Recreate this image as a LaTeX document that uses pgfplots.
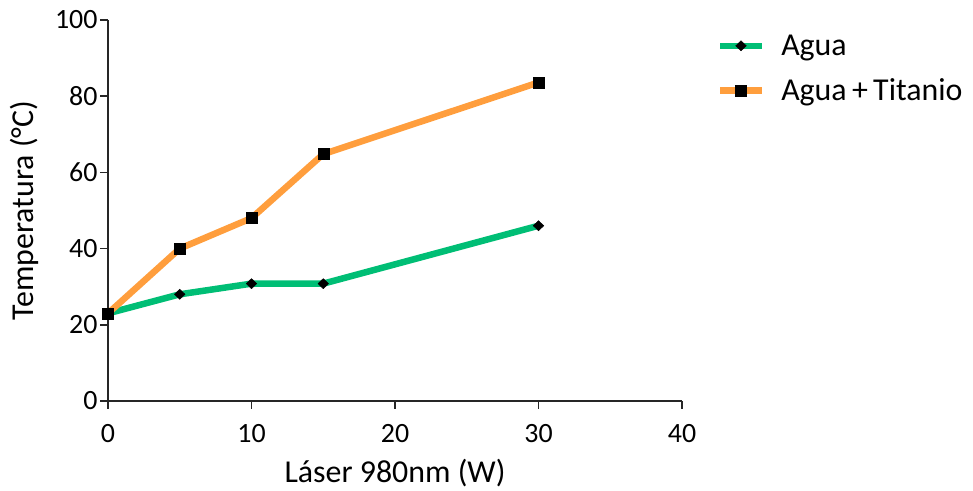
\documentclass[border=0pt]{standalone}
\usepackage{pgfplots}
\pgfplotsset{compat=1.18}
\usepackage{fontspec}
\setmainfont{Carlito}
\definecolor{agua}{HTML}{00BE75}
\definecolor{tit}{HTML}{FF9E3D}
\begin{document}
\begin{tikzpicture}[x=1bp,y=1bp]
\useasboundingbox (0,0) rectangle (973,491);
\begin{axis}[
  at={(108bp,90bp)}, anchor=south west,
  scale only axis, width=574bp, height=381bp,
  xmin=0, xmax=40, ymin=0, ymax=100,
  xtick={0,10,20,30,40}, ytick={0,20,40,60,80,100},
  axis x line*=bottom, axis y line*=left,
  axis line style={line width=1.5bp, -, black!85},
  tick style={line width=1.5bp, black!85},
  tick align=outside, major tick length=8bp,
  /pgf/number format/assume math mode=true,
  ticklabel style={font=\fontsize{28}{31}\selectfont},
  xticklabel style={yshift=-12bp},
  yticklabel style={xshift=1bp},
  xlabel={Láser 980nm (W)},
  ylabel={Temperatura (°C)},
  xlabel style={font=\fontsize{32}{36}\selectfont, at={(ticklabel cs:0.5)}, anchor=north, yshift=-10bp},
  ylabel style={font=\fontsize{32}{36}\selectfont, yshift=10bp},
  legend style={at={(1.055,0.972)}, anchor=north west, draw=none, fill=none,
    font=\fontsize{32}{36}\selectfont, row sep=18bp,
    /tikz/every even column/.append style={column sep=0bp}},
  legend image code/.code={
    \draw[#1, mark=none] (0bp,0bp) -- (42bp,0bp);
    \draw[#1, draw=none] plot coordinates {(21bp,0bp)};
  },
  legend cell align=left,
  clip=false,
]
\addplot[agua, line width=6.5bp, mark=diamond*, mark size=5bp, mark options={black, line width=0.5bp, fill=black, xscale=1.4}]
  coordinates {(0,23) (5,28) (10,30.8) (15,30.8) (30,46)};
\addlegendentry{\hspace{14bp}Agua}
\addplot[tit, line width=6.5bp, mark=square*, mark size=5.5bp, mark options={black, line width=0.5bp, fill=black}]
  coordinates {(0,23) (5,40) (10,48) (15,64.8) (30,83.6)};
\addlegendentry{\hspace{14bp}Agua\,+\,Titanio}
\end{axis}
\end{tikzpicture}
\end{document}
